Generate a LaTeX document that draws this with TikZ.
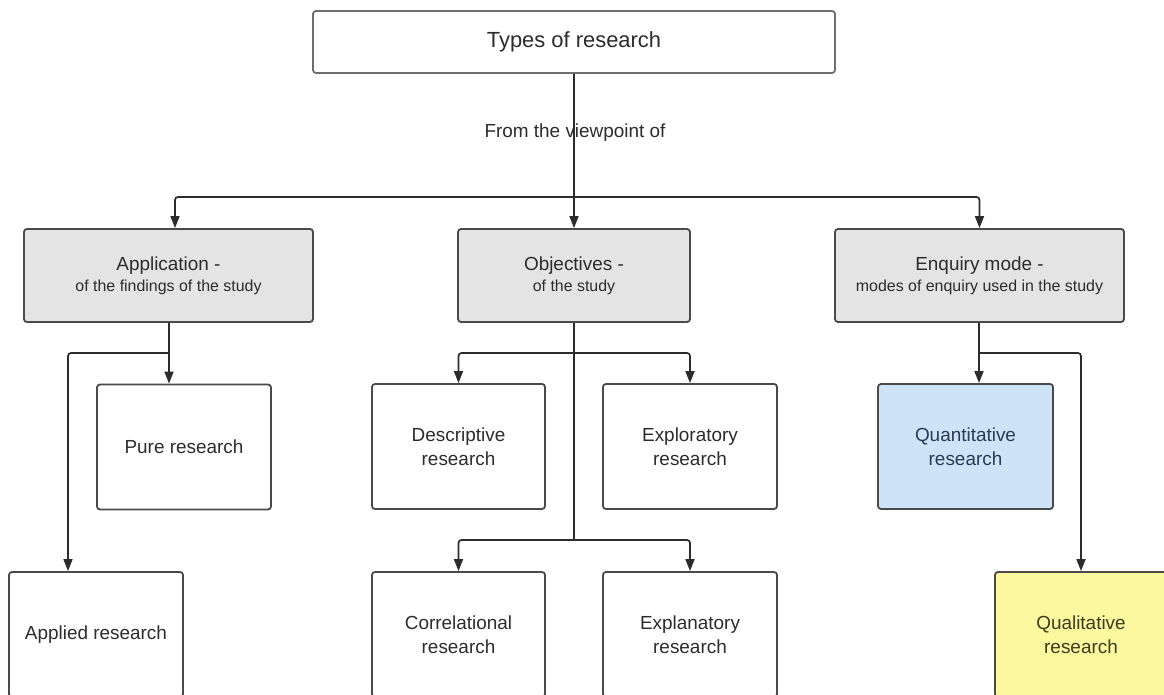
\documentclass[tikz,border=0pt]{standalone}
\usepackage{fontspec}
\setmainfont{Liberation Sans}
\usetikzlibrary{arrows.meta,calc}

\definecolor{edge}{HTML}{4A4A4A}
\definecolor{ink}{HTML}{2C2C2C}
\definecolor{catfill}{HTML}{E4E4E4}
\definecolor{quantfill}{HTML}{CCE3F8}
\definecolor{quantink}{HTML}{2B3B52}
\definecolor{qualfill}{HTML}{FBF89F}
\definecolor{qualink}{HTML}{3B3B1E}

\tikzset{
  box/.style={draw=edge, line width=1.8bp, rounded corners=3bp, fill=white,
    text=ink, align=center, inner sep=0pt,
    font=\fontsize{19}{24}\selectfont},
  catbox/.style={box, fill=catfill},
  leafbox/.style={box, minimum width=174bp, minimum height=125bp},
  conn/.style={draw=ink, line width=1.7bp, rounded corners=3bp},
  arr/.style={conn, -{Triangle[width=9bp,length=12bp]}}
}

\begin{document}
\begin{tikzpicture}[x=1bp,y=-1bp]
  \useasboundingbox (0,0) rectangle (1164,695);
  \clip (0,0) rectangle (1164,695);
  \fill[white] (0,0) rectangle (1164,695);

  % root
  \node[box, draw=edge!80, minimum width=522bp, minimum height=62bp,
        font=\fontsize{22}{26}\selectfont] (top) at (574,42) {Types of research};
  \node[text=ink, font=\fontsize{19}{24}\selectfont] (view) at (575,133) {From the viewpoint of};

  % categories
  \node[catbox, minimum width=289bp, minimum height=93bp] (app) at (168.5,275.5)
    {Application -\\[-3bp]{\fontsize{16}{20}\selectfont of the findings of the study}};
  \node[catbox, minimum width=232bp, minimum height=93bp] (obj) at (574,275.5)
    {Objectives -\\[-3bp]{\fontsize{16}{20}\selectfont of the study}};
  \node[catbox, minimum width=289bp, minimum height=93bp] (enq) at (979.5,275.5)
    {Enquiry mode -\\[-3bp]{\fontsize{16}{20}\selectfont modes of enquiry used in the study}};

  % leaves
  \node[leafbox] (pure) at (184,447) {Pure research};
  \node[leafbox] (appl) at (96,634.5) {Applied research};
  \node[leafbox, minimum width=173bp] (desc) at (458.5,446.5) {Descriptive\\research};
  \node[leafbox] (expl) at (690,446.5) {Exploratory\\research};
  \node[leafbox, minimum width=173bp] (corr) at (458.5,634.5) {Correlational\\research};
  \node[leafbox] (expn) at (690,634.5) {Explanatory\\research};
  \node[leafbox, fill=quantfill, text=quantink, minimum width=175bp] (quan) at (965.5,446.5) {Quantitative\\research};
  \node[leafbox, fill=qualfill, text=qualink, minimum width=172bp] (qual) at (1081,634.5) {Qualitative\\research};

  % junction points
  \coordinate (h0) at (574,197);
  \coordinate (h1) at (169,353);
  \coordinate (h2) at (574,353);
  \coordinate (h3) at (574,540);
  \coordinate (h4) at (979,353);

  % root to categories
  \draw[arr] (top.south) -- (obj.north);
  \draw[arr] (h0) -| ([xshift=6.5bp]app.north);
  \draw[arr] (h0) -| (enq.north);

  % application
  \draw[arr] ([xshift=0.5bp]app.south) -- ([xshift=-15bp]pure.north);
  \draw[arr] (h1) -| ([xshift=-28bp]appl.north);

  % objectives
  \draw[conn] (obj.south) -- (h3);
  \draw[arr] (h2) -| (desc.north);
  \draw[arr] (h2) -| (expl.north);
  \draw[arr] (h3) -| (corr.north);
  \draw[arr] (h3) -| (expn.north);

  % enquiry mode
  \draw[arr] ([xshift=-0.5bp]enq.south) -- ([xshift=13.5bp]quan.north);
  \draw[arr] (h4) -| (qual.north);
\end{tikzpicture}
\end{document}
